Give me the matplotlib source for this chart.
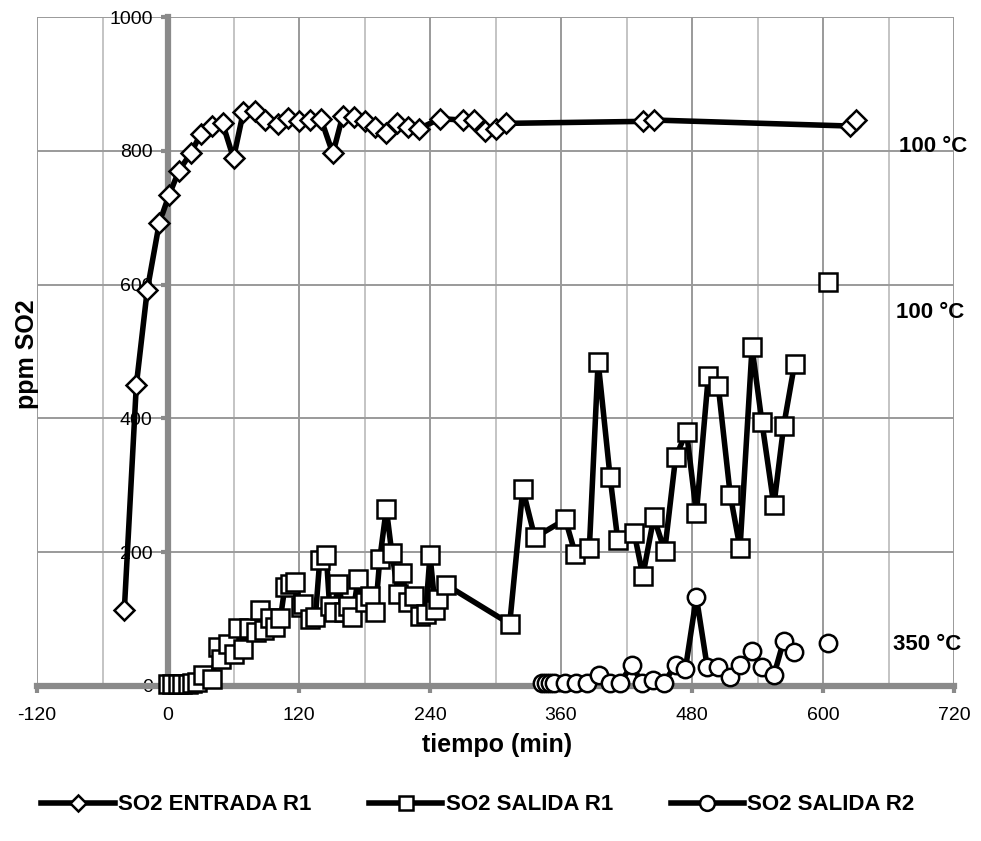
import matplotlib
matplotlib.use("Agg")
import matplotlib.pyplot as plt
import numpy as np
from matplotlib.ticker import MultipleLocator

plt.rcParams['font.family'] = ['Liberation Sans', 'DejaVu Sans']
plt.rcParams['axes.unicode_minus'] = False

# SO2 ENTRADA R1 (inlet of reactor 1)
t_entrada = [-40, -29, -19, -8, 1, 10, 21, 30, 40, 50, 60, 69, 80, 89, 101, 110,
             120, 130, 140, 151, 160, 170, 180, 190, 200, 210, 220, 230, 249, 270,
             280, 290, 300, 310, 435, 445, 625, 630]
so2_entrada = [114, 450, 592, 692, 734, 770, 797, 825, 837, 841, 789, 858, 860, 846, 840, 849,
               844, 846, 848, 796, 852, 850, 844, 836, 827, 842, 836, 833, 848, 846,
               846, 829, 833, 841, 844, 846, 837, 846]

# SO2 SALIDA R1 (outlet of reactor 1); NaN separates the last reading
t_salida1 = [0, 4, 9, 13, 18, 22, 27, 32, 40, 46, 49, 55, 60, 64, 69, 74, 81, 84, 88, 93,
             98, 103, 107, 112, 116, 122, 124, 130, 135, 139, 145, 148, 152, 156, 161, 165,
             169, 174, 180, 185, 190, 194, 200, 205, 211, 214, 220, 225, 231, 236, 240, 245,
             247, 255, 313, 325, 336, 364, 373, 386, 394, 405, 412, 427, 435, 445, 455, 465,
             475, 484, 495, 504, 515, 524, 535, 544, 555, 564, 574, 590, 605]
so2_salida1 = [3, 3, 3, 3, 3, 4, 6, 16, 11, 59, 41, 63, 48, 86, 56, 86, 81, 113, 83, 101,
               88, 101, 148, 153, 155, 118, 123, 100, 103, 188, 196, 120, 110, 153, 110, 120,
               103, 160, 125, 135, 110, 190, 265, 199, 138, 169, 125, 135, 105, 108, 196, 113,
               130, 151, 93, 294, 222, 249, 198, 207, 485, 312, 218, 229, 165, 252, 202, 342,
               380, 258, 464, 449, 286, 206, 506, 395, 270, 389, 482, np.nan, 604]

# SO2 SALIDA R2 (outlet of reactor 2)
t_salida2 = [343, 346, 350, 354, 364, 374, 384, 395, 405, 414, 425, 434, 444, 454, 465,
             474, 484, 494, 504, 515, 524, 535, 544, 555, 564, 573, 590, 605]
so2_salida2 = [4, 4, 4, 4, 4, 4, 4, 16, 4, 4, 32, 4, 9, 4, 32,
               26, 133, 28, 28, 13, 32, 53, 29, 16, 68, 51, np.nan, 64]

labels = ['SO2 ENTRADA R1', 'SO2 SALIDA R1', 'SO2 SALIDA R2']

fig = plt.figure(figsize=(9.81, 8.41), dpi=100)
ax = fig.add_axes([37 / 981, 1 - 686 / 841, (954 - 37) / 981, (686 - 17) / 841])
ax.set_xlim(-120, 720)
ax.set_ylim(0, 1000)
ax.xaxis.set_major_locator(MultipleLocator(120))
ax.xaxis.set_minor_locator(MultipleLocator(60))
ax.yaxis.set_major_locator(MultipleLocator(200))
ax.grid(which='major', color='#9a9a9a', lw=1.4)
ax.grid(which='minor', axis='x', color='#c4c4c4', lw=1.4)
ax.set_axisbelow(True)

for s in ['top', 'right']:
    ax.spines[s].set_visible(False)
ax.spines['left'].set_position(('data', 0))
for s in ['left', 'bottom']:
    ax.spines[s].set_color('#8a8a8a')
    ax.spines[s].set_linewidth(4.5)
    ax.spines[s].set_zorder(1.5)

ax.tick_params(which='major', direction='out', length=5, width=3, color='#8a8a8a',
               labelsize=14)
ax.tick_params(axis='x', pad=10)
ax.tick_params(axis='y', pad=6)
ax.tick_params(which='minor', length=0)

common = dict(color='black', lw=4, mec='black', mfc='white', mew=1.8, clip_on=False)
ax.plot(t_entrada, so2_entrada, marker='D', ms=10, label=labels[0], zorder=3, **common)
ax.plot(t_salida1, so2_salida1, marker='s', ms=12.5, label=labels[1], zorder=4, **common)
ax.plot(t_salida2, so2_salida2, marker='o', ms=12.5, label=labels[2], zorder=5, **common)

fig.text(27 / 981, 1 - 354 / 841, 'ppm SO2', rotation=90, ha='center', va='center',
         fontsize=18, fontweight='bold')
fig.text(497 / 981, 1 - 745 / 841, 'tiempo (min)', ha='center', va='center',
         fontsize=18, fontweight='bold')

for x, y, s in [(933, 147, '100 °C'), (930, 312, '100 °C'), (927, 645, '350 °C')]:
    fig.text(x / 981, 1 - y / 841, s, ha='center', va='center', fontsize=16, fontweight='bold')

leg = fig.legend(loc='center', bbox_to_anchor=(478 / 981, 1 - 805 / 841), ncol=3, frameon=False,
                 prop={'weight': 'bold', 'size': 16}, handlelength=3.3, handletextpad=0.15,
                 columnspacing=2.6, markerscale=0.85)

fig.savefig('out.png', dpi=100)
